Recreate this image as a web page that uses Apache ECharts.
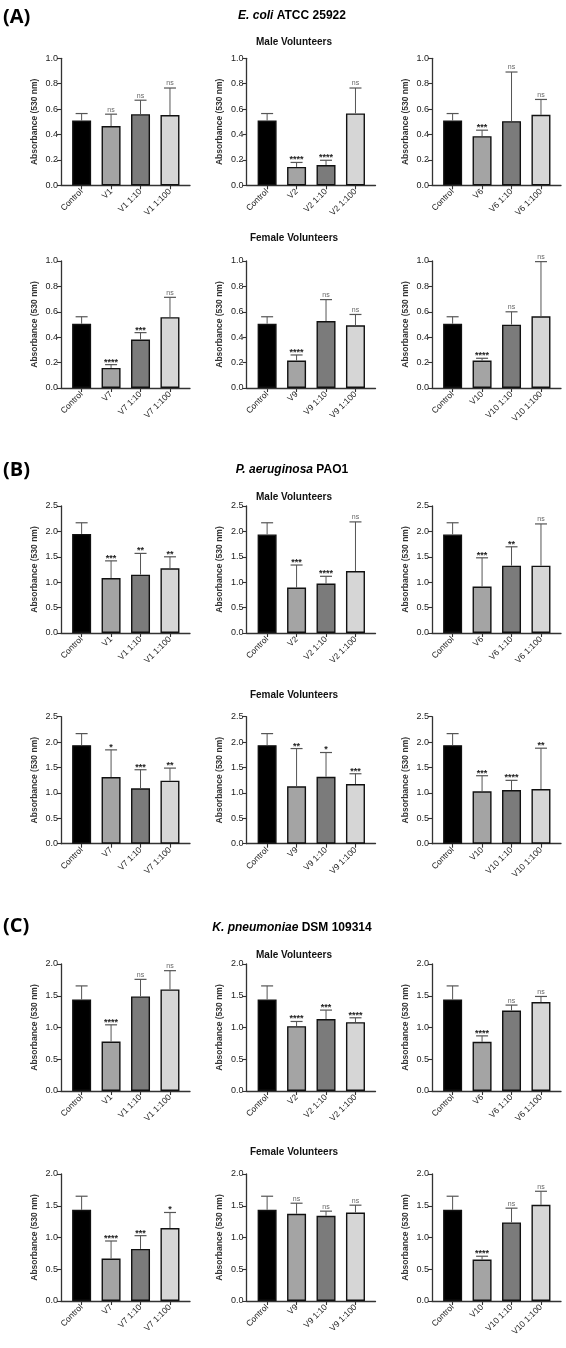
<!DOCTYPE html>
<html>
<head>
<meta charset="utf-8">
<script src="https://cdn.jsdelivr.net/npm/echarts@6/dist/echarts.min.js"></script>
<style>
html, body { margin: 0; padding: 0; background: #fff; }
#chart { width: 566px; height: 1348px; }
</style>
</head>
<body>
<div id="chart"></div>
<script>
// volunteers per row (male row, female row)
var maleVolunteers = ['V1', 'V2', 'V6'];
var femaleVolunteers = ['V7', 'V9', 'V10'];
var dilutions = ['', ' 1:10', ' 1:100'];

var sectionLabels = ['(A)', '(B)', '(C)'];
var speciesNames = ['E. coli', 'P. aeruginosa', 'K. pneumoniae'];
var strainNames = ['ATCC 25922', 'PAO1', 'DSM 109314'];

// y axis ranges per section
var yMax = [1.0, 2.5, 2.0];
var yStep = [0.2, 0.5, 0.5];

// E. coli ATCC 25922 : bar means, top of error bar, significance
var ecoliMeans = [
    [0.51, 0.466, 0.56, 0.553],
    [0.51, 0.145, 0.16, 0.566],
    [0.51, 0.387, 0.505, 0.555],
    [0.506, 0.158, 0.382, 0.558],
    [0.506, 0.216, 0.527, 0.494],
    [0.506, 0.216, 0.499, 0.564]
];
var ecoliTops = [
    [0.565, 0.56, 0.67, 0.766],
    [0.565, 0.18, 0.197, 0.766],
    [0.565, 0.434, 0.892, 0.676],
    [0.561, 0.184, 0.436, 0.714],
    [0.561, 0.26, 0.696, 0.579],
    [0.561, 0.234, 0.6, 0.995]
];
var ecoliSig = [
    ['', 'ns', 'ns', 'ns'],
    ['', '****', '****', 'ns'],
    ['', '***', 'ns', 'ns'],
    ['', '****', '***', 'ns'],
    ['', '****', 'ns', 'ns'],
    ['', '****', 'ns', 'ns']
];

// P. aeruginosa PAO1
var paeruMeans = [
    [1.95, 1.083, 1.149, 1.273],
    [1.94, 0.894, 0.973, 1.22],
    [1.94, 0.914, 1.325, 1.325],
    [1.94, 1.312, 1.09, 1.24],
    [1.94, 1.129, 1.318, 1.175],
    [1.94, 1.031, 1.057, 1.077]
];
var paeruTops = [
    [2.17, 1.42, 1.567, 1.5],
    [2.17, 1.338, 1.116, 2.187],
    [2.17, 1.48, 1.697, 2.147],
    [2.167, 1.847, 1.456, 1.488],
    [2.167, 1.873, 1.795, 1.377],
    [2.167, 1.338, 1.247, 1.88]
];
var paeruSig = [
    ['', '***', '**', '**'],
    ['', '***', '****', 'ns'],
    ['', '***', '**', 'ns'],
    ['', '*', '***', '**'],
    ['', '**', '*', '***'],
    ['', '***', '****', '**']
];

// K. pneumoniae DSM 109314
var kpneuMeans = [
    [1.44, 0.779, 1.489, 1.6],
    [1.44, 1.021, 1.132, 1.084],
    [1.44, 0.774, 1.268, 1.4],
    [1.436, 0.668, 0.82, 1.149],
    [1.436, 1.373, 1.342, 1.394],
    [1.436, 0.653, 1.238, 1.514]
];
var kpneuTops = [
    [1.655, 1.042, 1.758, 1.895],
    [1.655, 1.095, 1.274, 1.153],
    [1.655, 0.868, 1.353, 1.489],
    [1.65, 0.945, 1.029, 1.394],
    [1.65, 1.54, 1.415, 1.509],
    [1.65, 0.705, 1.462, 1.728]
];
var kpneuSig = [
    ['', '****', 'ns', 'ns'],
    ['', '****', '***', '****'],
    ['', '****', 'ns', 'ns'],
    ['', '****', '***', '*'],
    ['', 'ns', 'ns', 'ns'],
    ['', '****', 'ns', 'ns']
];

var allMeans = [ecoliMeans, paeruMeans, kpneuMeans];
var allTops = [ecoliTops, paeruTops, kpneuTops];
var allSig = [ecoliSig, paeruSig, kpneuSig];

var barColors = ['#000000', '#a4a4a4', '#7b7b7b', '#d6d6d6'];
var FONT = 'Liberation Sans';

// layout
var colLeft = [61, 246.5, 432];
var rowTop = [58.3, 261, 506, 716.7, 964, 1174];
var gridW = 129;
var gridH = 127;
var titleY = [16, 470, 928];
var labelY = [19, 472, 928];
var maleY = [42, 497, 955];
var femaleY = [238, 695, 1152];

var axisColor = '#333';

function categoriesFor(v) {
    var list = ['Control'];
    dilutions.forEach(function (d) { list.push(v + d); });
    return list;
}

var grids = [], xAxes = [], yAxes = [], series = [], graphics = [];

for (var s = 0; s < 3; s++) {
    graphics.push({
        type: 'text', left: 3, top: labelY[s] - 12,
        style: { text: sectionLabels[s], font: 'bold 20px "Open Sans"', fill: '#000' }
    });
    graphics.push({
        type: 'text', x: 292, y: titleY[s],
        style: {
            text: '{i|' + speciesNames[s] + '} ' + strainNames[s],
            font: 'bold 12px ' + FONT, fill: '#000',
            align: 'center', verticalAlign: 'middle',
            textAlign: 'center', textVerticalAlign: 'middle',
            rich: { i: { fontStyle: 'italic', fontWeight: 'bold', fontSize: 12, fontFamily: FONT } }
        }
    });
    [['Male Volunteers', maleY[s]], ['Female Volunteers', femaleY[s]]].forEach(function (t) {
        graphics.push({
            type: 'text', x: 294, y: t[1],
            style: {
                text: t[0], font: 'bold 10px ' + FONT, fill: '#111',
                align: 'center', verticalAlign: 'middle',
                textAlign: 'center', textVerticalAlign: 'middle'
            }
        });
    });

    for (var r = 0; r < 2; r++) {
        for (var c = 0; c < 3; c++) {
            (function (s, r, c) {
                var k = r * 3 + c;
                var idx = s * 6 + k;
                var vol = r === 0 ? maleVolunteers[c] : femaleVolunteers[c];
                var cats = categoriesFor(vol);
                var means = allMeans[s][k];
                var tops = allTops[s][k];
                var sig = allSig[s][k];

                grids.push({ left: colLeft[c], top: rowTop[s * 2 + r], width: gridW, height: gridH });

                xAxes.push({
                    gridIndex: idx, type: 'value', min: -0.7, max: 3.68,
                    axisLine: { show: true, onZero: false, lineStyle: { color: axisColor, width: 1.3 } },
                    axisTick: { show: true, customValues: [0, 1, 2, 3], length: 4, lineStyle: { color: axisColor, width: 1.1 } },
                    axisLabel: {
                        customValues: [0, 1, 2, 3],
                        formatter: function (v) { return cats[Math.round(v)]; },
                        rotate: 45, fontSize: 8.5, fontFamily: FONT, color: '#222', margin: 5
                    },
                    splitLine: { show: false }
                });

                yAxes.push({
                    gridIndex: idx, type: 'value', min: 0, max: yMax[s], interval: yStep[s],
                    axisLine: { show: true, onZero: false, lineStyle: { color: axisColor, width: 1.3 } },
                    axisTick: { show: true, length: 4, lineStyle: { color: axisColor, width: 1.1 } },
                    axisLabel: {
                        formatter: function (v) { return v.toFixed(1); },
                        fontSize: 9, fontFamily: FONT, color: '#222', margin: 3
                    },
                    splitLine: { show: false },
                    name: 'Absorbance (530 nm)', nameLocation: 'middle', nameGap: 22,
                    nameTextStyle: { fontSize: 8.5, fontWeight: 'bold', fontFamily: FONT, color: '#333' }
                });

                series.push({
                    type: 'bar', xAxisIndex: idx, yAxisIndex: idx, barWidth: 19,
                    silent: true, animation: false,
                    data: means.map(function (m, i) { return [i, m]; }),
                    itemStyle: {
                        color: function (p) { return barColors[p.dataIndex]; },
                        borderColor: '#111', borderWidth: 1.4
                    }
                });

                series.push({
                    type: 'custom', xAxisIndex: idx, yAxisIndex: idx,
                    silent: true, animation: false, clip: false, z: 5,
                    data: means.map(function (m, i) { return [i, m, tops[i]]; }),
                    renderItem: function (params, api) {
                        var x = api.value(0);
                        var p0 = api.coord([x, api.value(1)]);
                        var p1 = api.coord([x, api.value(2)]);
                        var children = [
                            { type: 'line', shape: { x1: p0[0], y1: p0[1], x2: p1[0], y2: p1[1] }, style: { stroke: '#555', lineWidth: 1 } },
                            { type: 'line', shape: { x1: p1[0] - 6, y1: p1[1], x2: p1[0] + 6, y2: p1[1] }, style: { stroke: '#555', lineWidth: 1.2 } }
                        ];
                        var label = sig[params.dataIndex];
                        if (label) {
                            var ns = label === 'ns';
                            children.push({
                                type: 'text',
                                style: {
                                    text: label, x: p1[0], y: ns ? p1[1] - 1 : p1[1] + 2,
                                    align: 'center', verticalAlign: 'bottom',
                                    textAlign: 'center', textVerticalAlign: 'bottom',
                                    font: ns ? '7px ' + FONT : 'bold 9px ' + FONT,
                                    fill: ns ? '#666' : '#222'
                                }
                            });
                        }
                        return { type: 'group', children: children };
                    }
                });
            })(s, r, c);
        }
    }
}

var chart = echarts.init(document.getElementById('chart'));
chart.setOption({
    animation: false,
    backgroundColor: '#fff',
    graphic: graphics,
    grid: grids,
    xAxis: xAxes,
    yAxis: yAxes,
    series: series
});
</script>
</body>
</html>
